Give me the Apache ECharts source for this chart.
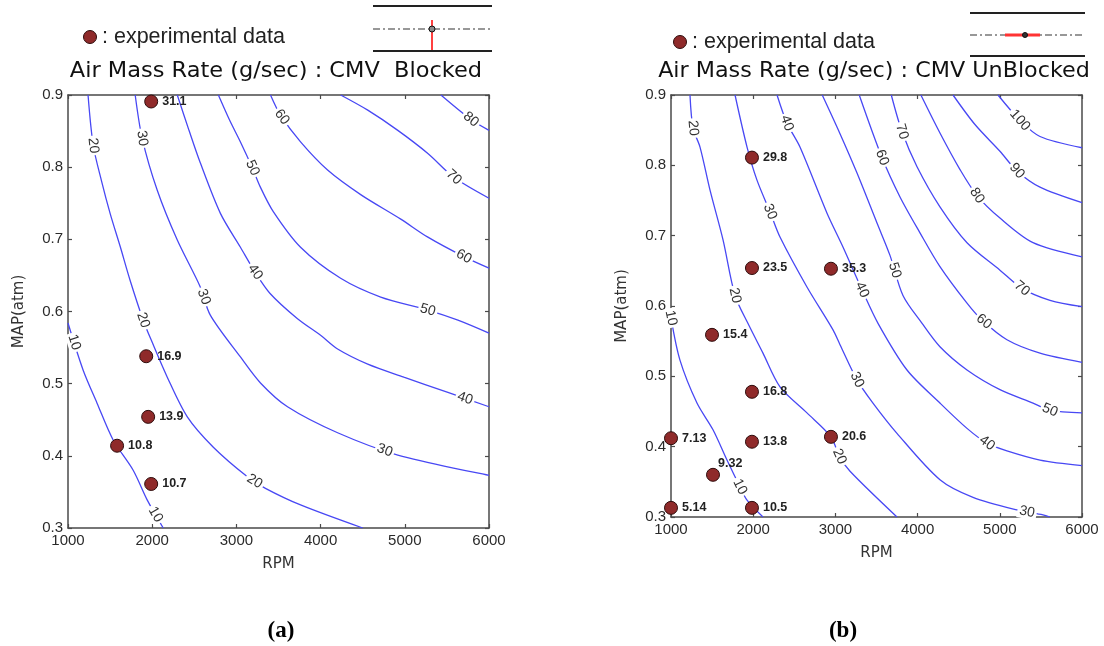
<!DOCTYPE html>
<html>
<head>
<meta charset="utf-8">
<script src="https://cdn.jsdelivr.net/npm/echarts@6/dist/echarts.min.js"></script>
<style>html,body{margin:0;padding:0;background:#fff}#c{width:1104px;height:646px}</style>
</head>
<body>
<div id="c"></div>
<script>
// ---------- DATA ----------
const titleA = 'Air Mass Rate (g/sec) : CMV  Blocked';
const titleB = 'Air Mass Rate (g/sec) : CMV UnBlocked';
const legendText = ': experimental data';
const xName = 'RPM';
const yName = 'MAP(atm)';
const captions = ['(a)', '(b)'];

// Panel (a): contour lines [RPM, MAP]
const cA10 = [[1000,0.584],[1179,0.519],[1345,0.473],[1536,0.422],[1774,0.38],[1940,0.339],[2131,0.3]];
const cA20 = [[1238,0.9],[1300,0.83],[1400,0.78],[1500,0.736],[1620,0.69],[1738,0.643],[1893,0.588],[1990,0.56],[2179,0.509],[2417,0.454],[2726,0.412],[3131,0.371],[3345,0.355],[3762,0.332],[4500,0.3]];
const cA30 = [[1798,0.9],[1881,0.84],[2060,0.768],[2298,0.699],[2571,0.634],[2690,0.595],[3048,0.537],[3286,0.501],[3607,0.468],[4202,0.432],[4917,0.401],[6000,0.373]];
const cA40 = [[2298,0.9],[2440,0.85],[2571,0.806],[2810,0.736],[3048,0.689],[3214,0.656],[3400,0.625],[3726,0.59],[4000,0.567],[4202,0.548],[4560,0.527],[4988,0.509],[5512,0.488],[6000,0.468]];
const cA50 = [[2786,0.9],[2920,0.865],[3048,0.835],[3190,0.799],[3286,0.772],[3440,0.738],[3762,0.689],[4238,0.646],[4714,0.62],[5274,0.602],[5631,0.588],[6000,0.57]];
const cA60 = [[3405,0.9],[3524,0.872],[3762,0.835],[4083,0.796],[4476,0.762],[4952,0.728],[5274,0.703],[5702,0.676],[6000,0.66]];
const cA70 = [[4238,0.9],[4560,0.879],[4917,0.851],[5274,0.819],[5583,0.786],[6000,0.757]];
const cA80 = [[5429,0.9],[5786,0.866],[6000,0.851]];
// contour label positions [RPM, MAP, level]
const labelsA = [[1040,0.556,10],[2000,0.316,10],[1300,0.83,20],[1893,0.588,20],[3202,0.362,20],
  [1881,0.84,30],[2607,0.62,30],[4750,0.404,30],[3214,0.654,40],[5702,0.475,40],
  [3190,0.799,50],[5274,0.602,50],[3524,0.868,60],[5702,0.676,60],[5583,0.786,70],[5786,0.866,80]];
// experimental points [RPM, MAP, value]
const pointsA = [[1988,0.891,'31.1'],[1929,0.538,'16.9'],[1952,0.454,'13.9'],[1583,0.414,'10.8'],[1988,0.361,'10.7']];

// Panel (b)
const cB10 = [[1000,0.583],[1109,0.523],[1316,0.462],[1511,0.424],[1681,0.381],[1839,0.343],[1925,0.324],[2119,0.3]];
const cB20 = [[1231,0.9],[1268,0.853],[1353,0.826],[1474,0.765],[1633,0.694],[1779,0.615],[1937,0.575],[2119,0.533],[2326,0.485],[2654,0.448],[2946,0.414],[3050,0.386],[3178,0.365],[3749,0.3]];
const cB30 = [[1779,0.9],[1925,0.826],[2046,0.779],[2204,0.734],[2326,0.698],[2654,0.627],[2971,0.566],[3056,0.545],[3263,0.495],[3457,0.462],[3749,0.419],[4272,0.353],[4674,0.328],[5209,0.31],[5525,0.303],[5610,0.3]];
const cB40 = [[2290,0.9],[2411,0.86],[2569,0.826],[2898,0.732],[3092,0.684],[3324,0.623],[3520,0.575],[3871,0.509],[4272,0.462],[4601,0.426],[4844,0.405],[5087,0.394],[5489,0.381],[6000,0.373]];
const cB50 = [[2840,0.9],[3056,0.845],[3263,0.789],[3506,0.718],[3664,0.672],[3822,0.615],[4050,0.576],[4272,0.542],[4601,0.509],[5002,0.481],[5404,0.462],[5611,0.452],[6000,0.448]];
const cB60 = [[3290,0.9],[3567,0.811],[3786,0.755],[4029,0.704],[4272,0.656],[4601,0.604],[4783,0.58],[5087,0.552],[5489,0.533],[6000,0.52]];
const cB70 = [[3680,0.9],[3810,0.848],[3993,0.798],[4272,0.741],[4601,0.69],[5002,0.651],[5270,0.625],[5611,0.608],[6000,0.599]];
const cB80 = [[4040,0.9],[4272,0.846],[4516,0.794],[4723,0.757],[5002,0.725],[5404,0.69],[6000,0.67]];
const cB90 = [[4431,0.9],[4698,0.858],[5002,0.82],[5209,0.792],[5489,0.769],[6000,0.747]];
const cB100 = [[4978,0.9],[5245,0.864],[5489,0.841],[6000,0.825]];
const labelsB = [[1030,0.585,10],[1839,0.343,10],[1268,0.853,20],[1779,0.615,20],[3050,0.386,20],
  [2204,0.734,30],[3263,0.495,30],[5331,0.307,30],[2411,0.86,40],[3324,0.623,40],[4844,0.405,40],
  [3725,0.651,50],[5611,0.452,50],[3567,0.811,60],[4795,0.576,60],[3810,0.848,70],[5270,0.625,70],
  [4723,0.757,80],[5209,0.792,90],[5245,0.864,100]];
const pointsB = [[1985,0.811,'29.8'],[1985,0.654,'23.5'],[2946,0.653,'35.3'],[1499,0.559,'15.4'],
  [1985,0.478,'16.8'],[1000,0.412,'7.13'],[1985,0.407,'13.8'],[2946,0.414,'20.6'],
  [1511,0.360,'9.32'],[1000,0.313,'5.14'],[1985,0.313,'10.5']];

const contoursA = {10:cA10,20:cA20,30:cA30,40:cA40,50:cA50,60:cA60,70:cA70,80:cA80};
const contoursB = {10:cB10,20:cB20,30:cB30,40:cB40,50:cB50,60:cB60,70:cB70,80:cB80,90:cB90,100:cB100};

// ---------- CHART ----------
const chart = echarts.init(document.getElementById('c'), null, {renderer: 'canvas'});
const LINE = '#4848f4';
const AXC = '#4a4a4a';
const TICKFONT = 'Liberation Sans';

function xAxes(grid) {
  const base = {gridIndex: grid, type: 'value', min: 1000, max: 6000, interval: 1000,
    axisLine: {show: true, onZero: false, lineStyle: {color: AXC, width: 1.5}},
    axisTick: {show: true, inside: true, length: 4, lineStyle: {color: AXC, width: 1.2}},
    splitLine: {show: false}};
  return [
    Object.assign({}, base, {position: 'bottom', name: xName, nameLocation: 'middle', nameGap: 29,
      nameTextStyle: {fontFamily: 'DejaVu Sans', fontSize: 15, color: '#333'},
      axisLabel: {fontFamily: TICKFONT, fontSize: 15, color: '#2a2a2a', margin: 5,
        formatter: v => String(Math.round(v))}}),
    Object.assign({}, base, {position: 'top', axisLabel: {show: false}})
  ];
}
function yAxes(grid) {
  const base = {gridIndex: grid, type: 'value', min: 0.3, max: 0.9, interval: 0.1,
    axisLine: {show: true, onZero: false, lineStyle: {color: AXC, width: 1.5}},
    axisTick: {show: true, inside: true, length: 4, lineStyle: {color: AXC, width: 1.2}},
    splitLine: {show: false}};
  return [
    Object.assign({}, base, {position: 'left', name: yName, nameLocation: 'middle', nameGap: 41,
      nameRotate: 90,
      nameTextStyle: {fontFamily: 'DejaVu Sans', fontSize: 15, color: '#333'},
      axisLabel: {fontFamily: TICKFONT, fontSize: 15, color: '#2a2a2a', margin: 5,
        formatter: v => v.toFixed(1)}}),
    Object.assign({}, base, {position: 'right', axisLabel: {show: false}})
  ];
}

function contourSeries(contours, xi, yi) {
  return Object.keys(contours).map(k => ({
    type: 'line', xAxisIndex: xi, yAxisIndex: yi, data: contours[k],
    showSymbol: false, symbol: 'none', smooth: 0.3,
    lineStyle: {color: LINE, width: 1.3}, silent: true, z: 2, animation: false
  }));
}

function labelSeries(contours, labels, xi, yi) {
  return {
    type: 'custom', xAxisIndex: xi, yAxisIndex: yi, data: labels, z: 3, animation: false, silent: true,
    encode: {x: 0, y: 1},
    renderItem: function (params, api) {
      const lvl = api.value(2);
      const p = api.coord([api.value(0), api.value(1)]);
      const pts = contours[lvl].map(d => api.coord(d));
      let best = null;
      for (let i = 0; i < pts.length - 1; i++) {
        const a = pts[i], b = pts[i + 1];
        const dx = b[0] - a[0], dy = b[1] - a[1];
        const l2 = dx * dx + dy * dy || 1;
        let t = ((p[0] - a[0]) * dx + (p[1] - a[1]) * dy) / l2;
        t = Math.max(0, Math.min(1, t));
        const q = [a[0] + t * dx, a[1] + t * dy];
        const d2 = (q[0] - p[0]) ** 2 + (q[1] - p[1]) ** 2;
        if (!best || d2 < best.d2) best = {d2, q, dx, dy};
      }
      let ang = Math.atan2(-best.dy, best.dx);
      if (ang > Math.PI / 2) ang -= Math.PI;
      if (ang <= -Math.PI / 2) ang += Math.PI;
      return {
        type: 'text', x: best.q[0], y: best.q[1], rotation: ang,
        style: {text: String(lvl), fill: '#333', font: '14px "Liberation Sans"',
          align: 'center', verticalAlign: 'middle', textAlign: 'center', textVerticalAlign: 'middle',
          backgroundColor: '#fff', padding: [0, 2]}
      };
    }
  };
}

function pointSeries(points, xi, yi) {
  return {
    type: 'scatter', xAxisIndex: xi, yAxisIndex: yi, z: 5, clip: false, animation: false,
    symbol: 'circle', symbolSize: 13,
    itemStyle: {color: '#8f2a2a', borderColor: '#2e0c0c', borderWidth: 1, opacity: 1},
    label: {show: true, position: 'right', distance: 4, formatter: '{b}',
      fontFamily: 'Liberation Sans', fontWeight: 'bold', fontSize: 12.5, color: '#222'},
    data: points.map(p => {
      const item = {value: [p[0], p[1]], name: p[2]};
      if (p[2] === '9.32') item.label = {position: [12, -11]};
      return item;
    })
  };
}

const dotStyle = {fill: '#8f2a2a', stroke: '#2e0c0c', lineWidth: 1};
const center = {textAlign: 'center', align: 'center', textVerticalAlign: 'middle', verticalAlign: 'middle'};
const graphic = [
  // panel (a) header
  {type: 'circle', shape: {cx: 90, cy: 37, r: 6.5}, style: dotStyle},
  {type: 'text', x: 102, y: 37, style: {text: legendText, font: '21.5px "Liberation Sans"', fill: '#222',
    textVerticalAlign: 'middle', verticalAlign: 'middle'}},
  {type: 'text', x: 276, y: 72, scaleX: 1.07, style: Object.assign({text: titleA, font: '21px "DejaVu Sans"', fill: '#111'}, center)},
  {type: 'line', shape: {x1: 373, y1: 6, x2: 492, y2: 6}, style: {stroke: '#222', lineWidth: 2}},
  {type: 'line', shape: {x1: 373, y1: 29, x2: 490, y2: 29}, style: {stroke: '#777', lineWidth: 1.5, lineDash: [7, 3, 2, 3]}},
  {type: 'line', shape: {x1: 432, y1: 20, x2: 432, y2: 52}, style: {stroke: '#f00', lineWidth: 1.5}},
  {type: 'circle', shape: {cx: 432, cy: 29, r: 3}, style: {fill: '#888', stroke: '#111', lineWidth: 1}},
  {type: 'line', shape: {x1: 373, y1: 51, x2: 492, y2: 51}, style: {stroke: '#222', lineWidth: 2}},
  // panel (b) header
  {type: 'circle', shape: {cx: 680, cy: 42, r: 6.5}, style: dotStyle},
  {type: 'text', x: 692, y: 42, style: {text: legendText, font: '21.5px "Liberation Sans"', fill: '#222',
    textVerticalAlign: 'middle', verticalAlign: 'middle'}},
  {type: 'text', x: 874, y: 72, scaleX: 1.06, style: Object.assign({text: titleB, font: '21px "DejaVu Sans"', fill: '#111'}, center)},
  {type: 'line', shape: {x1: 970, y1: 13, x2: 1085, y2: 13}, style: {stroke: '#222', lineWidth: 2}},
  {type: 'line', shape: {x1: 970, y1: 35, x2: 1085, y2: 35}, style: {stroke: '#777', lineWidth: 1.5, lineDash: [7, 3, 2, 3]}},
  {type: 'line', shape: {x1: 1005, y1: 35, x2: 1040, y2: 35}, style: {stroke: '#f33', lineWidth: 3}},
  {type: 'circle', shape: {cx: 1025, cy: 35, r: 2.5}, style: {fill: '#333', stroke: '#111', lineWidth: 1}},
  {type: 'line', shape: {x1: 970, y1: 56, x2: 1085, y2: 56}, style: {stroke: '#222', lineWidth: 2}},
  // captions
  {type: 'text', x: 281, y: 631, style: Object.assign({text: captions[0], font: 'bold 23px "Liberation Serif"', fill: '#000'}, center)},
  {type: 'text', x: 843, y: 631, style: Object.assign({text: captions[1], font: 'bold 23px "Liberation Serif"', fill: '#000'}, center)}
];

const option = {
  backgroundColor: '#fff',
  animation: false,
  grid: [
    {left: 68, top: 95, width: 421, height: 433, containLabel: false},
    {left: 671, top: 95, width: 411, height: 422, containLabel: false}
  ],
  xAxis: [...xAxes(0), ...xAxes(1)],
  yAxis: [...yAxes(0), ...yAxes(1)],
  graphic: graphic,
  series: [
    ...contourSeries(contoursA, 0, 0),
    labelSeries(contoursA, labelsA, 0, 0),
    pointSeries(pointsA, 0, 0),
    ...contourSeries(contoursB, 2, 2),
    labelSeries(contoursB, labelsB, 2, 2),
    pointSeries(pointsB, 2, 2)
  ]
};
chart.setOption(option);
</script>
</body>
</html>
